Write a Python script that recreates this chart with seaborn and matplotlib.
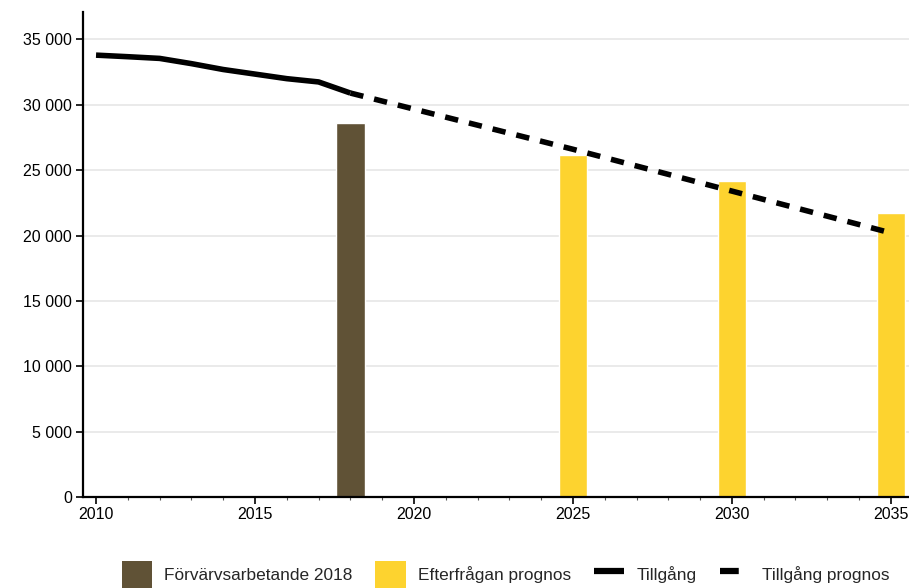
import numpy as np
import pandas as pd
import seaborn as sns
import matplotlib.pyplot as plt
from matplotlib.patches import Patch
from matplotlib.lines import Line2D
from matplotlib.ticker import FuncFormatter, MultipleLocator

# ------------------------------------------------------------------
# Data
# ------------------------------------------------------------------
ar_tillgang = [2010, 2011, 2012, 2013, 2014, 2015, 2016, 2017, 2018]
tillgang = [33800, 33680, 33550, 33150, 32700, 32350, 32000, 31750, 30900]

ar_prognos = [2018, 2025, 2030, 2035]
tillgang_prognos = [30900, 26600, 23400, 20200]

ar_forv = [2018]
forvarvsarbetande = [28600]

ar_efterfragan = [2025, 2030, 2035]
efterfragan = [26150, 24150, 21700]

BRUN = "#605236"
GUL = "#FDD32F"

# ------------------------------------------------------------------
# Plot
# ------------------------------------------------------------------
sns.set_theme(style="white")
plt.rcParams['font.family'] = ['Liberation Sans', 'DejaVu Sans']

fig = plt.figure(figsize=(9.09, 5.88), dpi=100)
ax = fig.add_axes([0.0913, 0.1548, 0.9087, 0.8248])

ax.yaxis.grid(True, color="#e6e6e6", linewidth=1.2)
ax.set_axisbelow(True)

ax.bar(ar_forv, forvarvsarbetande, width=0.9, color=BRUN, zorder=2)
ax.bar(ar_efterfragan, efterfragan, width=0.9, color=GUL, zorder=2)

df_t = pd.DataFrame({"ar": ar_tillgang, "v": tillgang})
df_p = pd.DataFrame({"ar": ar_prognos, "v": tillgang_prognos})
sns.lineplot(data=df_t, x="ar", y="v", ax=ax, color="black", linewidth=4.0,
             solid_capstyle="butt", zorder=3)
sns.lineplot(data=df_p, x="ar", y="v", ax=ax, color="black", linewidth=4.0,
             dashes=False, zorder=3)
ax.lines[-1].set_dashes((2.4, 2.0))
ax.lines[-1].set_dash_capstyle("butt")

ax.set_xlim(2009.59, 2035.57)
ax.set_ylim(0, 37100)
ax.set_xticks([2010, 2015, 2020, 2025, 2030, 2035])
ax.xaxis.set_minor_locator(MultipleLocator(1))
ax.set_yticks(np.arange(0, 35001, 5000))
ax.yaxis.set_major_formatter(FuncFormatter(lambda v, p: f"{int(v):,}".replace(",", " ")))
ax.set_xlabel("")
ax.set_ylabel("")

for s in ["top", "right"]:
    ax.spines[s].set_visible(False)
for s in ["left", "bottom"]:
    ax.spines[s].set_color("black")
    ax.spines[s].set_linewidth(1.6)

ax.tick_params(axis="both", which="major", labelsize=11.5, colors="black",
               length=5, width=1.2, direction="out")
ax.tick_params(axis="x", which="major", bottom=True, pad=2)
ax.tick_params(axis="y", which="major", left=True, pad=3)
ax.tick_params(axis="x", which="minor", bottom=True, length=2.5, width=0.8, color="#555555")

handles = [
    Patch(facecolor=BRUN, edgecolor="none", label="Förvärvsarbetande 2018"),
    Patch(facecolor=GUL, edgecolor="none", label="Efterfrågan prognos"),
    Line2D([0], [0], color="black", linewidth=4.5, solid_capstyle="butt", label="Tillgång"),
    Line2D([0], [0], color="black", linewidth=4.5, dashes=(3.0, 2.0),
           dash_capstyle="butt", label="Tillgång prognos"),
]
fig.legend(handles=handles, loc="center", bbox_to_anchor=(0.556, 0.023), ncol=4,
           frameon=False, fontsize=12.4, handlelength=1.75, handleheight=2.0,
           handletextpad=0.7, columnspacing=1.35)

plt.savefig("out.png", dpi=100)
